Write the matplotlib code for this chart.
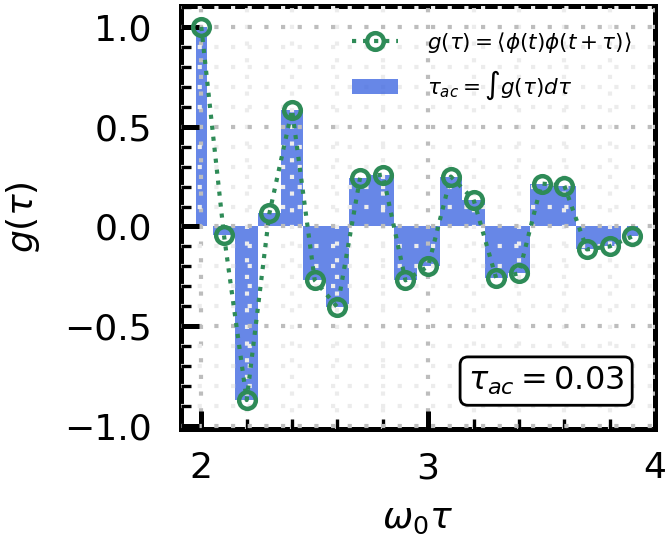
import numpy as np
import matplotlib
matplotlib.use("Agg")
import matplotlib.pyplot as plt
from matplotlib.ticker import MultipleLocator
from matplotlib.patches import Patch
from matplotlib.lines import Line2D

# ── data ───────────────────────────────────────────────────────────────────────
tau = [2.0, 2.1, 2.2, 2.3, 2.4, 2.5, 2.6, 2.7, 2.8, 2.9,
       3.0, 3.1, 3.2, 3.3, 3.4, 3.5, 3.6, 3.7, 3.8, 3.9]
g = [1.00, -0.045, -0.87, 0.065, 0.585, -0.27, -0.405, 0.245, 0.26, -0.27,
     -0.20, 0.25, 0.135, -0.26, -0.235, 0.215, 0.205, -0.115, -0.10, -0.05]
tau_ac = 0.03

GREEN = "#2e8b57"
BLUE = "royalblue"

tau = np.array(tau)
g = np.array(g)
dx = tau[1] - tau[0]
w = np.full(len(tau), dx)
w[0] = w[-1] = dx / 2          # trapezoid weights at the ends

fig = plt.figure(figsize=(6.65, 5.41), dpi=100)
ax = fig.add_axes([0.272, 0.207, 0.713, 0.782])

ax.bar(tau, g, width=w, color=BLUE, alpha=0.8, lw=0, zorder=1)
ax.plot(tau, g, ls=":", lw=3.0, color=GREEN, marker="o", ms=12, mew=3.2,
        mfc="none", mec=GREEN, zorder=4)

ax.set_xlim(1.91, 4.0)
ax.set_ylim(-1.015, 1.105)
ax.xaxis.set_major_locator(MultipleLocator(1))
ax.xaxis.set_minor_locator(MultipleLocator(0.2))
ax.yaxis.set_major_locator(MultipleLocator(0.5))
ax.yaxis.set_minor_locator(MultipleLocator(0.1))

ax.set_axisbelow(False)
ax.grid(which="major", color="#bdbdbd", lw=3, ls=(0, (1, 3)), zorder=2)
ax.grid(which="minor", color="#ececec", lw=3, ls=(0, (1, 3)), zorder=0.5)

for s in ax.spines.values():
    s.set_linewidth(3.6)
ax.tick_params(which="major", direction="in", length=13, width=3.6,
               labelsize=26)
ax.tick_params(which="minor", direction="in", length=7, width=2.4)
ax.tick_params(axis="x", which="major", pad=16)
ax.tick_params(axis="y", which="major", pad=21)
ax.set_yticks([-1.0, -0.5, 0.0, 0.5, 1.0])
ax.set_yticklabels(["\u22121.0", "\u22120.5", "0.0", "0.5", "1.0"])

ax.set_xlabel(r"$\omega_0\tau$", fontsize=26, labelpad=12)
ax.set_ylabel(r"$g(\tau)$", fontsize=26, labelpad=16)

handles = [Line2D([], [], ls=":", lw=3.0, color=GREEN, marker="o", ms=12,
                  mew=3.2, mfc="none", mec=GREEN),
           Patch(color=BLUE, alpha=0.8, lw=0)]
labels = [r"$g(\tau)=\langle\phi(t)\phi(t+\tau)\rangle$",
          r"$\tau_{ac}=\int g(\tau)d\tau$"]
ax.legend(handles, labels, loc="upper right", frameon=False, fontsize=15.5,
          handlelength=2.1, handletextpad=1.35, borderaxespad=0.7,
          labelspacing=0.65)

ax.text(0.935, 0.075, fr"$\tau_{{ac}}={tau_ac:.2f}$", transform=ax.transAxes,
        ha="right", va="bottom", fontsize=23, zorder=6,
        bbox=dict(boxstyle="round,pad=0.25", fc="white", ec="black", lw=2))

fig.savefig("out.png", dpi=100)
